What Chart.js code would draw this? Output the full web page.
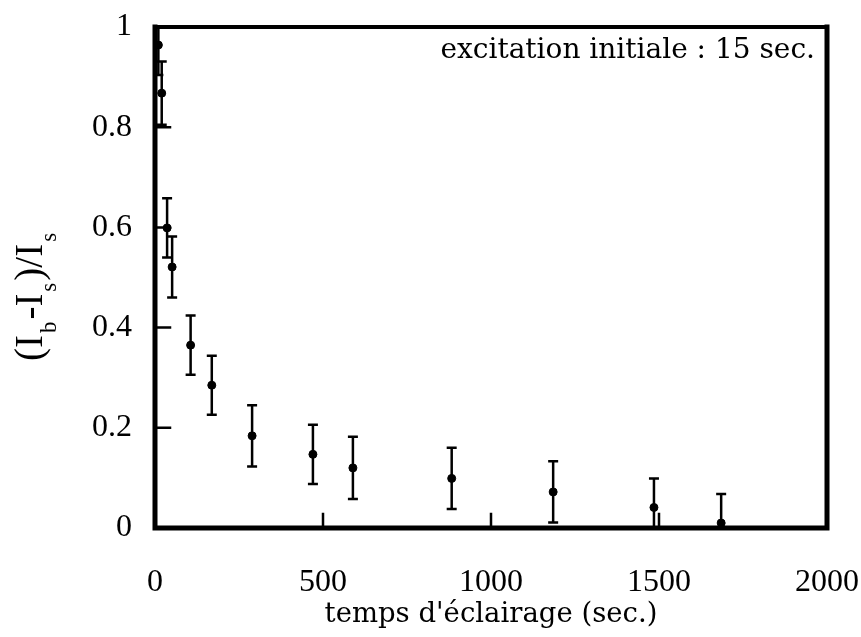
<!DOCTYPE html>
<html>
<head>
<meta charset="utf-8">
<script src="https://cdn.jsdelivr.net/npm/chart.js@4.4.1/dist/chart.umd.min.js"></script>
<style>
    html, body { margin: 0; padding: 0; background: #ffffff; }
    #wrap { width: 861px; height: 637px; }
</style>
</head>
<body>
<div id="wrap"><canvas id="decayChart" width="861" height="637"></canvas></div>
<script>
// temps d'éclairage (sec.)
const times = [10, 20, 36, 51, 106, 169, 289, 470, 589, 883, 1185, 1485, 1685];
// (Ib-Is)/Is
const ratios = [0.964, 0.868, 0.599, 0.521, 0.365, 0.285, 0.184, 0.147, 0.120, 0.099, 0.072, 0.041, 0.010];
const errors = [0.060, 0.063, 0.059, 0.061, 0.059, 0.059, 0.061, 0.059, 0.062, 0.061, 0.061, 0.058, 0.058];
const xTicks = [500, 1000, 1500];
const yTicks = [0.2, 0.4, 0.6, 0.8];

const serif = '"Liberation Serif", "DejaVu Serif", serif';
const textFont = '"DejaVu Serif", "Liberation Serif", serif';

const errorBars = {
    id: 'errorBars',
    afterDatasetsDraw(chart) {
        const { ctx, chartArea, scales } = chart;
        ctx.save();
        ctx.beginPath();
        ctx.rect(chartArea.left, chartArea.top, chartArea.right - chartArea.left, chartArea.bottom - chartArea.top);
        ctx.clip();
        ctx.strokeStyle = '#000';
        ctx.lineWidth = 2.5;
        times.forEach((t, i) => {
            const x = scales.x.getPixelForValue(t);
            const yTop = scales.y.getPixelForValue(ratios[i] + errors[i]);
            const yBot = scales.y.getPixelForValue(ratios[i] - errors[i]);
            ctx.beginPath();
            ctx.moveTo(x, yTop); ctx.lineTo(x, yBot);
            ctx.moveTo(x - 5, yTop); ctx.lineTo(x + 5, yTop);
            ctx.moveTo(x - 5, yBot); ctx.lineTo(x + 5, yBot);
            ctx.stroke();
        });
        ctx.restore();
    }
};

const frame = {
    id: 'frame',
    afterDraw(chart) {
        const { ctx, chartArea, scales } = chart;
        const { left, right, top, bottom } = chartArea;
        ctx.save();
        ctx.strokeStyle = '#000';
        ctx.lineCap = 'square';
        // inward ticks
        ctx.lineWidth = 2.5;
        ctx.beginPath();
        xTicks.forEach(v => {
            const x = scales.x.getPixelForValue(v);
            ctx.moveTo(x, bottom); ctx.lineTo(x, bottom - 14);
        });
        yTicks.forEach(v => {
            const y = scales.y.getPixelForValue(v);
            ctx.moveTo(left, y); ctx.lineTo(left + 15, y);
        });
        ctx.stroke();
        // box
        ctx.lineWidth = 5;
        ctx.beginPath();
        ctx.moveTo(left, top); ctx.lineTo(left, bottom); ctx.lineTo(right, bottom); ctx.lineTo(right, top);
        ctx.stroke();
        ctx.lineWidth = 4;
        ctx.beginPath();
        ctx.moveTo(left, top); ctx.lineTo(right, top);
        ctx.stroke();

        // annotation
        ctx.fillStyle = '#000';
        ctx.font = '28px ' + textFont;
        ctx.textAlign = 'right';
        ctx.textBaseline = 'alphabetic';
        ctx.fillText('excitation initiale : 15 sec.', right - 12, 58);

        // y axis label with subscripts
        ctx.translate(42, 296);
        ctx.rotate(-Math.PI / 2);
        const parts = [
            ['(I', false], ['b', true], ['-I', false], ['s', true], [')/I', false], ['s', true]
        ];
        const big = '39px ' + serif;
        const small = '23px ' + serif;
        let total = 0;
        parts.forEach(([s, sub]) => { ctx.font = sub ? small : big; total += ctx.measureText(s).width + 2; });
        let x = -total / 2;
        ctx.textAlign = 'left';
        parts.forEach(([s, sub]) => {
            ctx.font = sub ? small : big;
            ctx.fillText(s, x, sub ? 14 : 0);
            x += ctx.measureText(s).width + 2;
        });
        ctx.restore();
    }
};

new Chart(document.getElementById('decayChart'), {
    type: 'scatter',
    data: {
        datasets: [{
            data: times.map((t, i) => ({ x: t, y: ratios[i] })),
            backgroundColor: '#000',
            borderColor: '#000',
            pointRadius: 4,
            pointHoverRadius: 4
        }]
    },
    options: {
        responsive: false,
        animation: false,
        events: [],
        layout: { padding: { top: 27, right: 34, left: 0, bottom: 0 } },
        plugins: { legend: { display: false }, tooltip: { enabled: false } },
        scales: {
            x: {
                type: 'linear',
                min: 0,
                max: 2000,
                afterFit: (scale) => {
                    scale.height = 109;
                    scale.paddingLeft = 0;
                    scale.paddingRight = 0;
                },
                grid: { display: false, drawTicks: false },
                border: { display: false },
                ticks: {
                    stepSize: 500,
                    color: '#000',
                    padding: 35,
                    maxRotation: 0,
                    callback: (v) => String(v),
                    font: { family: serif, size: 32 }
                },
                title: {
                    display: true,
                    text: "temps d'éclairage (sec.)",
                    color: '#000',
                    padding: { top: 0, bottom: 6 },
                    font: { family: textFont, size: 27.5 }
                }
            },
            y: {
                min: 0,
                max: 1,
                afterFit: (scale) => {
                    scale.width = 155;
                    scale.paddingTop = 0;
                    scale.paddingBottom = 0;
                },
                grid: { display: false, drawTicks: false },
                border: { display: false },
                ticks: {
                    stepSize: 0.2,
                    color: '#000',
                    padding: 23,
                    callback: (v) => String(Math.round(v * 10) / 10),
                    font: { family: serif, size: 32 }
                }
            }
        }
    },
    plugins: [errorBars, frame]
});
</script>
</body>
</html>
